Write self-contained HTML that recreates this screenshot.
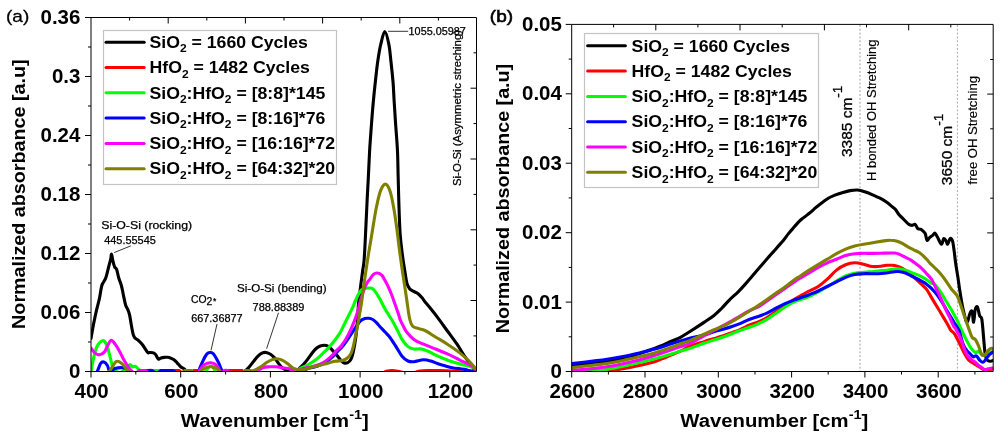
<!DOCTYPE html>
<html><head><meta charset="utf-8"><style>
html,body{margin:0;padding:0;background:#fff;}
svg{display:block;will-change:transform;}
text{font-family:'Liberation Sans', sans-serif;fill:#000;}
.tk{font-size:19.5px;font-weight:bold;}
.ti{font-size:18.8px;font-weight:bold;}
.lg{font-size:17px;font-weight:bold;}
.sb{font-size:11.5px;}
.an{font-size:10.4px;stroke:#000;stroke-width:0.25px;}
.an2{font-size:15.5px;stroke:#000;stroke-width:0.3px;}
.an3{font-size:12.3px;stroke:#000;stroke-width:0.15px;}
.pl{font-size:17px;font-weight:bold;}
</style></head><body>
<svg width="1008" height="439" viewBox="0 0 1008 439">
<defs>
<clipPath id="ca"><rect x="91" y="18" width="385.5" height="353"/></clipPath>
<clipPath id="cb"><rect x="571.7" y="24.5" width="421.5" height="346.5"/></clipPath>
</defs>
<rect width="1008" height="439" fill="#fff"/>
<!-- annotations A -->
<line x1="114.2" y1="252.6" x2="130.9" y2="245.8" stroke="#000" stroke-width="0.8"/>
<line x1="217" y1="324" x2="211" y2="350.4" stroke="#000" stroke-width="0.8"/>
<line x1="278.5" y1="312.8" x2="266.6" y2="348.7" stroke="#000" stroke-width="0.8"/>
<line x1="388.1" y1="31.3" x2="408.2" y2="31.3" stroke="#000" stroke-width="0.8"/>
<line x1="860.0" y1="24.9" x2="860.0" y2="371" stroke="#a0a0a0" stroke-width="1" stroke-dasharray="2,1.84"/>
<line x1="957.4" y1="24.9" x2="957.4" y2="371" stroke="#a8a8a8" stroke-width="1" stroke-dasharray="2,1.84"/>
<path d="M91.0,338.4 C91.5,335.8 92.8,327.7 93.8,322.9 C94.8,318.1 95.7,313.6 96.7,309.4 C97.7,305.2 98.8,301.6 99.6,297.7 C100.4,293.8 101.0,288.6 101.7,286.0 C102.4,283.4 103.0,283.3 103.7,281.9 C104.4,280.5 105.0,280.2 105.8,277.8 C106.6,275.4 107.7,270.6 108.5,267.5 C109.3,264.4 110.2,261.2 110.7,259.0 C111.2,256.8 111.2,253.9 111.6,254.2 C111.9,254.4 112.3,258.4 112.8,260.5 C113.3,262.6 113.9,265.4 114.6,266.9 C115.2,268.4 116.0,267.8 116.7,269.6 C117.4,271.4 117.9,275.1 118.7,277.8 C119.5,280.5 120.7,283.0 121.5,286.0 C122.3,289.0 122.8,292.4 123.5,295.6 C124.2,298.8 124.9,302.7 125.6,305.0 C126.3,307.3 127.0,307.7 127.7,309.4 C128.4,311.1 128.6,310.8 129.6,315.2 C130.6,319.6 132.1,331.3 133.5,335.5 C134.9,339.7 136.8,338.8 138.3,340.3 C139.8,341.8 140.7,342.5 142.3,344.5 C143.9,346.5 146.5,351.2 147.7,352.5 C148.9,353.8 148.5,352.4 149.5,352.5 C150.5,352.6 152.5,352.5 153.5,352.9 C154.5,353.3 154.9,353.6 155.7,354.7 C156.5,355.8 157.5,358.7 158.4,359.2 C159.3,359.7 160.1,358.2 161.1,357.9 C162.1,357.6 163.3,357.5 164.6,357.4 C165.9,357.3 167.6,357.0 169.1,357.4 C170.6,357.8 172.3,358.7 173.6,359.6 C174.9,360.5 175.9,361.6 177.1,362.8 C178.3,364.0 179.5,365.8 180.7,366.8 C181.9,367.8 183.1,368.0 184.3,369.0 C185.5,370.0 186.8,372.0 187.9,372.6 C189.0,373.2 189.9,372.6 190.9,372.6 C191.9,372.6 192.9,372.6 193.9,372.6 C194.9,372.6 195.9,372.6 196.9,372.6 C197.9,372.6 199.0,372.6 200.0,372.6 C201.0,372.6 201.8,372.6 203.0,372.6 C204.2,372.6 205.8,372.6 207.0,372.6 C208.2,372.6 209.2,372.6 210.0,372.6 C210.8,372.6 210.6,372.6 211.6,372.6 C212.6,372.6 214.8,372.6 216.0,372.6 C217.2,372.6 218.0,372.6 219.0,372.6 C220.0,372.6 221.0,372.6 222.0,372.6 C223.0,372.6 224.0,372.6 225.0,372.6 C226.0,372.6 227.0,372.6 228.0,372.6 C229.0,372.6 230.0,372.6 231.0,372.6 C232.0,372.6 233.0,372.6 234.0,372.6 C235.0,372.6 236.0,372.6 237.0,372.6 C238.0,372.6 239.0,372.6 240.0,372.6 C241.0,372.6 241.6,373.4 243.0,372.6 C244.4,371.9 246.4,370.0 248.2,368.1 C250.0,366.2 252.0,363.4 253.6,361.4 C255.2,359.4 256.5,357.5 258.0,356.1 C259.5,354.7 261.1,353.5 262.5,352.9 C263.9,352.3 264.8,352.3 266.1,352.5 C267.4,352.7 269.2,353.5 270.5,354.3 C271.8,355.1 272.9,356.1 274.1,357.4 C275.3,358.7 276.5,360.7 277.7,362.3 C278.9,363.9 280.1,365.6 281.3,366.8 C282.5,368.0 283.2,368.5 284.8,369.5 C286.4,370.5 289.5,372.1 291.0,372.6 C292.5,373.1 292.9,372.6 294.0,372.6 C295.1,372.6 296.6,373.2 297.5,372.6 C298.4,372.0 298.2,370.1 299.2,368.7 C300.2,367.3 302.0,366.1 303.4,364.5 C304.8,362.9 306.2,361.2 307.6,359.4 C309.0,357.6 310.4,355.3 311.8,353.5 C313.2,351.7 314.7,349.8 316.1,348.5 C317.5,347.2 318.9,346.5 320.3,346.0 C321.7,345.5 323.2,345.3 324.5,345.3 C325.8,345.3 326.7,345.4 327.8,346.0 C328.9,346.6 329.8,347.4 331.2,348.9 C332.6,350.4 334.8,352.9 336.5,354.9 C338.2,356.8 340.0,359.2 341.3,360.6 C342.6,362.0 343.1,362.7 344.2,363.0 C345.3,363.3 346.9,363.1 348.0,362.5 C349.1,361.9 350.0,361.0 350.8,359.6 C351.6,358.2 352.2,356.5 352.8,354.0 C353.4,351.5 354.1,347.6 354.7,344.4 C355.2,341.2 355.7,338.4 356.1,334.8 C356.5,331.2 356.9,327.8 357.3,322.5 C357.7,317.2 358.1,308.8 358.6,303.0 C359.1,297.2 359.8,293.2 360.4,288.0 C361.0,282.8 361.9,276.7 362.5,272.0 C363.1,267.3 363.6,266.2 364.1,260.0 C364.6,253.8 365.1,243.5 365.5,234.7 C365.9,225.9 366.4,216.4 366.8,207.3 C367.2,198.2 367.7,189.3 368.2,180.0 C368.7,170.7 369.1,160.1 369.6,151.2 C370.1,142.3 370.7,134.8 371.3,126.6 C371.9,118.4 372.6,109.5 373.3,102.0 C374.0,94.5 374.6,88.3 375.4,81.5 C376.1,74.7 376.9,67.2 377.8,61.0 C378.7,54.9 379.5,49.5 380.7,44.6 C381.9,39.7 383.4,31.5 384.8,31.5 C386.2,31.5 387.9,39.7 388.9,44.6 C389.9,49.5 390.2,54.9 390.9,61.0 C391.6,67.2 392.4,74.7 393.0,81.5 C393.6,88.3 393.7,94.5 394.2,102.0 C394.7,109.5 395.2,118.4 395.8,126.6 C396.4,134.8 397.1,142.6 397.5,151.2 C397.9,159.8 397.9,168.7 398.2,178.0 C398.4,187.3 398.7,197.9 399.0,207.3 C399.3,216.8 399.7,227.6 400.2,234.7 C400.7,241.8 401.3,245.4 401.8,250.0 C402.3,254.6 402.9,258.4 403.4,262.0 C403.9,265.6 404.3,268.0 404.9,271.5 C405.5,275.0 406.1,280.3 406.9,283.2 C407.7,286.1 408.5,287.3 409.6,288.7 C410.7,290.1 412.3,290.6 413.7,291.4 C415.1,292.2 416.4,292.5 417.8,293.5 C419.2,294.5 420.5,296.0 421.9,297.6 C423.3,299.2 424.6,301.4 426.0,303.1 C427.4,304.8 428.0,305.3 430.0,307.8 C432.0,310.3 435.0,314.0 437.9,317.9 C440.8,321.8 444.2,326.6 447.4,331.0 C450.6,335.4 454.0,339.8 457.0,344.2 C460.0,348.6 462.8,353.6 465.4,357.4 C468.0,361.2 470.8,364.4 472.6,366.9 C474.4,369.4 475.4,371.7 476.0,372.6" fill="none" stroke="#000000" stroke-width="3.1" stroke-linejoin="round" stroke-linecap="round" clip-path="url(#ca)"/>
<path d="M91.0,372.6 C92.5,372.6 91.8,372.6 100.0,372.6 C108.2,372.6 132.8,372.6 140.0,372.6 C147.2,372.6 142.0,372.6 143.0,372.6 C144.0,372.6 145.0,372.9 146.0,372.6 C147.0,372.3 148.0,370.9 149.0,370.6 C150.0,370.3 151.0,370.3 152.0,370.6 C153.0,370.9 154.0,372.3 155.0,372.6 C156.0,372.9 157.0,372.6 158.0,372.6 C159.0,372.6 160.0,372.6 161.0,372.6 C162.0,372.6 163.0,372.6 164.0,372.6 C165.0,372.6 166.0,372.6 167.0,372.6 C168.0,372.6 169.0,372.9 170.0,372.6 C171.0,372.3 172.0,370.9 173.0,370.6 C174.0,370.3 175.0,370.6 176.0,370.6 C177.0,370.6 178.0,370.3 179.0,370.6 C180.0,370.9 181.0,372.3 182.0,372.6 C183.0,372.9 184.0,372.6 185.0,372.6 C186.0,372.6 187.0,372.6 188.0,372.6 C189.0,372.6 190.0,372.9 191.0,372.6 C192.0,372.3 193.0,370.9 194.0,370.6 C195.0,370.3 196.0,370.6 197.0,370.6 C198.0,370.6 199.0,370.3 200.0,370.6 C201.0,370.9 202.0,372.3 203.0,372.6 C204.0,372.9 205.0,372.6 206.0,372.6 C207.0,372.6 208.0,372.6 209.0,372.6 C210.0,372.6 211.0,372.6 212.0,372.6 C213.0,372.6 214.0,372.6 215.0,372.6 C216.0,372.6 217.0,372.6 218.0,372.6 C219.0,372.6 220.0,372.6 221.0,372.6 C222.0,372.6 223.0,372.9 224.0,372.6 C225.0,372.3 226.0,370.9 227.0,370.6 C228.0,370.3 229.0,370.6 230.0,370.6 C231.0,370.6 232.0,370.6 233.0,370.6 C234.0,370.6 235.0,370.6 236.0,370.6 C237.0,370.6 238.0,370.6 239.0,370.6 C240.0,370.6 241.0,370.3 242.0,370.6 C243.0,370.9 244.0,372.3 245.0,372.6 C246.0,372.9 247.0,372.6 248.0,372.6 C249.0,372.6 250.0,372.6 251.0,372.6 C252.0,372.6 253.0,372.6 254.0,372.6 C255.0,372.6 256.0,372.6 257.0,372.6 C258.0,372.6 259.0,372.6 260.0,372.6 C261.0,372.6 262.0,372.6 263.0,372.6 C264.0,372.6 265.0,372.6 266.0,372.6 C267.0,372.6 268.0,372.6 269.0,372.6 C270.0,372.6 271.0,372.6 272.0,372.6 C273.0,372.6 274.0,372.6 275.0,372.6 C276.0,372.6 277.0,372.6 278.0,372.6 C279.0,372.6 280.0,372.6 281.0,372.6 C282.0,372.6 283.0,372.6 284.0,372.6 C285.0,372.6 286.0,372.6 287.0,372.6 C288.0,372.6 289.0,372.6 290.0,372.6 C291.0,372.6 292.0,372.6 293.0,372.6 C294.0,372.6 295.0,372.6 296.0,372.6 C297.0,372.6 298.3,372.6 299.0,372.6 C299.7,372.6 286.5,372.6 300.0,372.6 C313.5,372.6 365.7,372.8 380.0,372.6 C394.3,372.4 384.0,371.5 386.0,371.2 C388.0,370.9 390.0,370.6 392.0,370.6 C394.0,370.6 396.0,370.9 398.0,371.2 C400.0,371.5 401.3,372.4 404.0,372.6 C406.7,372.8 411.3,372.9 414.0,372.6 C416.7,372.3 417.3,371.4 420.0,371.0 C422.7,370.6 426.7,370.6 430.0,370.5 C433.3,370.4 436.3,370.4 440.0,370.5 C443.7,370.6 448.7,370.8 452.0,371.0 C455.3,371.2 457.0,371.7 460.0,371.8 C463.0,371.9 467.3,372.0 470.0,371.5 C472.7,371.0 475.0,369.4 476.0,369.0" fill="none" stroke="#ff0000" stroke-width="3.1" stroke-linejoin="round" stroke-linecap="round" clip-path="url(#ca)"/>
<path d="M91.0,372.6 C91.3,370.8 91.8,365.9 92.8,361.6 C93.8,357.4 95.1,350.6 96.7,347.1 C98.3,343.6 100.9,341.2 102.5,340.7 C104.1,340.2 105.3,342.0 106.4,344.2 C107.5,346.4 108.3,350.3 109.3,353.9 C110.3,357.4 111.4,362.9 112.2,365.5 C113.0,368.1 112.8,368.2 114.1,369.4 C115.4,370.6 118.0,372.7 120.0,372.6 C122.0,372.5 124.4,370.3 126.0,369.0 C127.6,367.7 128.7,365.0 129.8,364.6 C130.9,364.2 131.5,366.5 132.5,366.8 C133.5,367.1 134.5,365.9 135.6,366.3 C136.7,366.8 137.2,368.4 138.8,369.5 C140.4,370.6 143.5,372.1 145.0,372.6 C146.5,373.1 147.0,372.6 148.0,372.6 C149.0,372.6 150.0,372.9 151.0,372.6 C152.0,372.3 153.0,370.9 154.0,370.6 C155.0,370.3 156.0,370.6 157.0,370.6 C158.0,370.6 159.0,370.3 160.0,370.6 C161.0,370.9 162.0,372.3 163.0,372.6 C164.0,372.9 165.0,372.6 166.0,372.6 C167.0,372.6 168.0,372.6 169.0,372.6 C170.0,372.6 171.0,372.6 172.0,372.6 C173.0,372.6 174.0,372.6 175.0,372.6 C176.0,372.6 177.0,372.6 178.0,372.6 C179.0,372.6 180.0,372.6 181.0,372.6 C182.0,372.6 183.0,372.6 184.0,372.6 C185.0,372.6 186.0,372.6 187.0,372.6 C188.0,372.6 189.0,372.6 190.0,372.6 C191.0,372.6 192.0,372.6 193.0,372.6 C194.0,372.6 195.0,372.6 196.0,372.6 C197.0,372.6 198.0,372.6 199.0,372.6 C200.0,372.6 201.0,372.6 202.0,372.6 C203.0,372.6 204.0,373.4 205.0,372.6 C206.0,371.8 207.1,369.1 208.0,368.0 C208.9,366.9 209.8,366.0 210.7,366.0 C211.6,366.0 212.6,366.9 213.5,368.0 C214.4,369.1 215.1,371.8 216.0,372.6 C216.9,373.4 218.0,372.6 219.0,372.6 C220.0,372.6 221.0,372.6 222.0,372.6 C223.0,372.6 224.0,372.6 225.0,372.6 C226.0,372.6 227.0,372.6 228.0,372.6 C229.0,372.6 230.0,372.6 231.0,372.6 C232.0,372.6 233.0,372.6 234.0,372.6 C235.0,372.6 236.0,372.6 237.0,372.6 C238.0,372.6 239.0,372.6 240.0,372.6 C241.0,372.6 242.0,372.6 243.0,372.6 C244.0,372.6 245.0,372.6 246.0,372.6 C247.0,372.6 248.0,372.6 249.0,372.6 C250.0,372.6 251.0,372.6 252.0,372.6 C253.0,372.6 254.0,372.6 255.0,372.6 C256.0,372.6 257.0,372.6 258.0,372.6 C259.0,372.6 260.0,372.6 261.0,372.6 C262.0,372.6 263.0,372.6 264.0,372.6 C265.0,372.6 266.0,372.6 267.0,372.6 C268.0,372.6 269.0,372.6 270.0,372.6 C271.0,372.6 272.0,372.6 273.0,372.6 C274.0,372.6 275.0,372.6 276.0,372.6 C277.0,372.6 278.0,372.6 279.0,372.6 C280.0,372.6 281.0,372.6 282.0,372.6 C283.0,372.6 284.0,372.6 285.0,372.6 C286.0,372.6 287.0,372.6 288.0,372.6 C289.0,372.6 290.0,372.6 291.0,372.6 C292.0,372.6 293.0,372.6 294.0,372.6 C295.0,372.6 296.1,373.2 297.0,372.6 C297.9,372.0 297.4,370.5 299.2,369.2 C301.0,367.9 304.8,366.6 307.6,365.0 C310.4,363.4 313.6,361.5 316.1,359.6 C318.6,357.7 320.7,355.5 322.8,353.5 C324.9,351.5 326.7,349.8 328.7,347.6 C330.7,345.4 332.7,343.0 334.6,340.5 C336.5,338.0 338.1,336.1 340.0,332.8 C341.9,329.5 344.1,324.6 346.2,320.5 C348.2,316.4 350.8,311.5 352.3,308.2 C353.9,304.9 354.4,302.9 355.5,300.5 C356.6,298.1 357.6,295.8 358.6,294.0 C359.6,292.2 360.4,291.0 361.5,290.0 C362.6,289.0 363.6,288.5 365.0,288.2 C366.4,287.9 368.3,287.9 369.6,288.0 C370.9,288.1 371.6,287.9 372.7,288.7 C373.8,289.5 374.9,291.0 376.2,292.8 C377.4,294.6 378.8,297.1 380.2,299.6 C381.6,302.1 383.0,305.3 384.4,307.8 C385.8,310.3 387.2,312.7 388.5,314.7 C389.8,316.7 390.6,317.9 391.9,320.0 C393.1,322.1 394.3,324.2 396.0,327.4 C397.7,330.6 400.0,336.2 402.0,339.4 C404.0,342.6 406.0,345.0 408.0,346.6 C410.0,348.2 411.7,348.6 413.9,349.0 C416.1,349.4 418.7,348.6 421.1,349.0 C423.5,349.4 425.5,350.2 428.3,351.4 C431.1,352.6 434.3,354.6 437.9,356.2 C441.5,357.8 445.8,359.6 449.8,361.0 C453.8,362.4 458.2,363.5 461.8,364.5 C465.4,365.5 469.0,366.2 471.4,366.9 C473.8,367.6 475.2,368.2 476.0,368.5" fill="none" stroke="#00ff00" stroke-width="3.1" stroke-linejoin="round" stroke-linecap="round" clip-path="url(#ca)"/>
<path d="M91.0,372.6 C91.5,372.6 93.0,372.6 94.0,372.6 C95.0,372.6 95.6,374.1 96.7,372.6 C97.8,371.1 99.4,365.3 100.6,363.5 C101.8,361.7 102.8,361.7 103.9,362.0 C105.0,362.3 106.3,363.7 107.4,365.5 C108.5,367.3 109.0,372.1 110.3,372.6 C111.6,373.1 112.4,369.1 115.1,368.4 C117.8,367.7 124.0,367.7 126.7,368.4 C129.3,369.1 129.8,371.9 131.0,372.6 C132.2,373.3 133.0,372.6 134.0,372.6 C135.0,372.6 136.0,372.6 137.0,372.6 C138.0,372.6 139.0,372.6 140.0,372.6 C141.0,372.6 142.0,372.9 143.0,372.6 C144.0,372.3 145.0,370.9 146.0,370.6 C147.0,370.3 148.0,370.6 149.0,370.6 C150.0,370.6 151.0,370.3 152.0,370.6 C153.0,370.9 154.0,372.3 155.0,372.6 C156.0,372.9 157.0,372.9 158.0,372.6 C159.0,372.3 160.0,370.9 161.0,370.6 C162.0,370.3 163.0,370.6 164.0,370.6 C165.0,370.6 166.0,370.6 167.0,370.6 C168.0,370.6 169.0,370.6 170.0,370.6 C171.0,370.6 172.0,370.3 173.0,370.6 C174.0,370.9 175.0,372.3 176.0,372.6 C177.0,372.9 178.0,372.6 179.0,372.6 C180.0,372.6 181.0,372.6 182.0,372.6 C183.0,372.6 184.0,372.6 185.0,372.6 C186.0,372.6 187.0,372.6 188.0,372.6 C189.0,372.6 190.0,372.6 191.0,372.6 C192.0,372.6 192.8,372.6 194.0,372.6 C195.2,372.6 197.0,373.4 198.0,372.6 C199.0,371.8 199.2,369.6 200.0,367.7 C200.8,365.8 201.8,363.3 202.7,361.4 C203.6,359.5 204.5,357.5 205.4,356.1 C206.3,354.7 207.1,353.6 208.0,353.0 C208.9,352.4 209.8,352.4 210.7,352.5 C211.6,352.6 212.5,352.9 213.4,353.8 C214.3,354.7 215.2,356.3 216.1,357.9 C217.0,359.5 217.9,361.3 218.8,363.2 C219.7,365.1 220.5,367.9 221.4,369.5 C222.3,371.1 223.1,372.1 224.0,372.6 C224.9,373.1 226.0,372.6 227.0,372.6 C228.0,372.6 229.0,372.6 230.0,372.6 C231.0,372.6 232.0,372.6 233.0,372.6 C234.0,372.6 235.0,372.6 236.0,372.6 C237.0,372.6 238.0,372.6 239.0,372.6 C240.0,372.6 241.0,372.6 242.0,372.6 C243.0,372.6 244.0,372.6 245.0,372.6 C246.0,372.6 247.0,372.6 248.0,372.6 C249.0,372.6 250.0,372.6 251.0,372.6 C252.0,372.6 253.0,372.6 254.0,372.6 C255.0,372.6 256.0,372.6 257.0,372.6 C258.0,372.6 259.0,372.6 260.0,372.6 C261.0,372.6 262.0,372.6 263.0,372.6 C264.0,372.6 265.0,372.6 266.0,372.6 C267.0,372.6 268.0,372.6 269.0,372.6 C270.0,372.6 271.0,372.6 272.0,372.6 C273.0,372.6 274.0,372.6 275.0,372.6 C276.0,372.6 277.0,372.6 278.0,372.6 C279.0,372.6 280.0,372.6 281.0,372.6 C282.0,372.6 283.0,372.6 284.0,372.6 C285.0,372.6 286.0,372.6 287.0,372.6 C288.0,372.6 289.0,372.6 290.0,372.6 C291.0,372.6 292.0,372.6 293.0,372.6 C294.0,372.6 294.9,372.6 296.0,372.6 C297.1,372.6 298.0,373.3 299.9,372.6 C301.8,371.9 304.9,369.6 307.6,368.6 C310.3,367.6 313.6,367.3 316.1,366.5 C318.6,365.7 320.7,365.1 322.8,364.0 C324.9,362.9 327.0,361.3 328.7,360.0 C330.4,358.7 331.6,357.7 333.0,356.3 C334.4,354.9 335.9,353.2 337.4,351.7 C338.9,350.1 340.5,348.7 342.0,347.0 C343.5,345.3 344.6,343.7 346.2,341.5 C347.8,339.3 349.8,336.3 351.3,334.0 C352.8,331.7 353.9,329.9 355.4,327.7 C356.9,325.5 359.0,322.3 360.5,320.8 C362.0,319.3 363.2,319.0 364.6,318.6 C366.0,318.2 367.3,318.2 368.7,318.3 C370.1,318.4 371.4,318.7 372.8,319.5 C374.2,320.3 375.7,321.9 376.9,323.1 C378.1,324.3 378.6,325.2 380.0,326.7 C381.4,328.2 383.3,330.2 385.0,332.0 C386.7,333.8 388.2,335.1 390.0,337.5 C391.8,339.9 394.0,343.5 396.0,346.6 C398.0,349.7 400.0,353.8 402.0,356.2 C404.0,358.6 406.0,360.1 408.0,361.0 C410.0,361.9 411.3,361.9 413.9,361.7 C416.5,361.5 420.7,359.9 423.5,359.8 C426.3,359.7 427.9,360.2 430.7,361.0 C433.5,361.8 436.7,363.4 440.3,364.5 C443.9,365.6 448.2,366.9 452.2,367.7 C456.2,368.5 460.2,368.5 464.2,369.3 C468.2,370.1 474.0,372.1 476.0,372.6" fill="none" stroke="#0000ff" stroke-width="3.1" stroke-linejoin="round" stroke-linecap="round" clip-path="url(#ca)"/>
<path d="M91.0,348.1 C91.6,348.9 93.4,351.8 94.8,352.9 C96.2,354.0 98.0,355.0 99.6,354.8 C101.2,354.6 103.2,353.3 104.5,351.9 C105.8,350.4 106.3,348.0 107.4,346.1 C108.5,344.2 109.9,340.6 111.2,340.3 C112.5,340.0 113.6,342.3 115.1,344.2 C116.5,346.1 118.5,349.3 119.9,351.9 C121.4,354.5 122.3,357.1 123.8,359.7 C125.2,362.3 127.0,365.2 128.6,367.4 C130.2,369.5 132.2,371.7 133.5,372.6 C134.8,373.5 135.5,372.9 136.5,372.6 C137.5,372.3 138.5,370.9 139.5,370.6 C140.5,370.3 141.5,370.6 142.5,370.6 C143.5,370.6 144.5,370.3 145.5,370.6 C146.5,370.9 147.5,372.3 148.5,372.6 C149.5,372.9 150.5,372.6 151.5,372.6 C152.5,372.6 153.5,372.6 154.5,372.6 C155.5,372.6 156.5,372.6 157.5,372.6 C158.5,372.6 159.5,372.6 160.5,372.6 C161.5,372.6 162.5,372.6 163.5,372.6 C164.5,372.6 165.5,372.6 166.5,372.6 C167.5,372.6 168.5,372.6 169.5,372.6 C170.5,372.6 171.5,372.6 172.5,372.6 C173.5,372.6 174.5,372.6 175.5,372.6 C176.5,372.6 177.5,372.6 178.5,372.6 C179.5,372.6 180.5,372.6 181.5,372.6 C182.5,372.6 183.5,372.6 184.5,372.6 C185.5,372.6 186.5,372.6 187.5,372.6 C188.5,372.6 189.5,372.6 190.5,372.6 C191.5,372.6 192.2,372.6 193.5,372.6 C194.8,372.6 196.9,373.1 198.0,372.6 C199.1,372.1 198.9,370.8 200.0,369.5 C201.1,368.2 202.7,365.7 204.5,364.6 C206.3,363.5 208.8,362.7 210.7,362.8 C212.6,362.9 214.3,363.4 216.1,365.0 C217.9,366.6 220.0,371.7 221.4,372.6 C222.8,373.5 223.4,370.9 224.4,370.6 C225.4,370.3 226.4,370.3 227.4,370.6 C228.4,370.9 229.4,372.3 230.4,372.6 C231.4,372.9 232.4,372.6 233.4,372.6 C234.4,372.6 235.4,372.6 236.4,372.6 C237.4,372.6 238.4,372.6 239.4,372.6 C240.4,372.6 241.4,372.6 242.4,372.6 C243.4,372.6 244.4,372.6 245.4,372.6 C246.4,372.6 247.6,372.6 248.4,372.6 C249.2,372.6 249.2,372.6 250.0,372.6 C250.8,372.6 252.1,372.6 253.0,372.6 C253.9,372.6 253.8,373.4 255.4,372.6 C257.0,371.8 260.1,368.7 262.5,367.7 C264.9,366.7 267.4,366.9 269.6,366.8 C271.8,366.7 273.8,366.7 275.9,366.8 C278.0,366.9 279.8,367.3 282.1,367.7 C284.5,368.1 287.5,368.2 290.0,369.0 C292.5,369.8 295.3,372.5 297.0,372.6 C298.7,372.7 298.2,370.3 300.0,369.5 C301.8,368.7 304.9,368.3 307.6,367.6 C310.3,366.9 313.6,366.2 316.1,365.4 C318.6,364.6 320.7,363.9 322.8,362.8 C324.9,361.7 327.0,360.0 328.7,358.6 C330.4,357.2 331.6,356.0 333.0,354.5 C334.4,353.0 335.9,351.2 337.4,349.6 C338.9,348.0 340.2,347.4 342.0,345.0 C343.8,342.6 346.3,338.5 348.2,334.9 C350.1,331.3 351.8,327.4 353.3,323.6 C354.9,319.8 356.3,316.1 357.5,312.2 C358.7,308.3 359.4,303.9 360.6,300.0 C361.8,296.1 363.4,291.3 364.5,288.5 C365.6,285.7 366.1,284.6 367.0,283.0 C367.9,281.4 368.9,280.5 370.0,279.1 C371.1,277.7 372.1,275.4 373.4,274.4 C374.6,273.4 376.1,272.9 377.5,273.0 C378.9,273.1 380.4,273.8 381.6,275.0 C382.9,276.2 383.9,278.4 385.0,280.5 C386.1,282.6 387.4,284.8 388.5,287.3 C389.6,289.8 390.8,292.5 391.9,295.5 C393.0,298.5 394.2,301.9 395.3,305.1 C396.4,308.3 397.9,312.2 398.7,314.7 C399.5,317.2 399.5,318.0 400.3,320.0 C401.1,322.0 402.4,324.5 403.5,326.5 C404.6,328.5 405.1,330.1 406.8,332.2 C408.5,334.3 411.1,337.4 413.9,339.4 C416.7,341.4 419.9,342.6 423.5,344.2 C427.1,345.8 431.5,347.4 435.5,349.0 C439.5,350.6 443.4,352.0 447.4,353.8 C451.4,355.6 455.8,358.0 459.4,359.8 C463.0,361.6 466.2,363.1 469.0,364.5 C471.8,365.9 474.8,367.8 476.0,368.5" fill="none" stroke="#ff00ff" stroke-width="3.1" stroke-linejoin="round" stroke-linecap="round" clip-path="url(#ca)"/>
<path d="M91.0,372.6 C91.5,372.6 93.0,372.6 94.0,372.6 C95.0,372.6 96.0,372.6 97.0,372.6 C98.0,372.6 99.0,372.6 100.0,372.6 C101.0,372.6 102.2,372.6 103.0,372.6 C103.8,372.6 104.1,372.6 105.0,372.6 C105.9,372.6 106.9,373.8 108.3,372.6 C109.7,371.4 111.9,367.3 113.2,365.5 C114.5,363.7 115.1,362.2 116.1,361.6 C117.1,361.0 117.9,361.1 119.0,361.6 C120.1,362.1 121.5,363.2 122.8,364.5 C124.1,365.8 125.3,368.0 126.7,369.4 C128.1,370.8 129.8,372.1 131.0,372.6 C132.2,373.1 133.0,372.6 134.0,372.6 C135.0,372.6 136.0,372.6 137.0,372.6 C138.0,372.6 139.0,372.6 140.0,372.6 C141.0,372.6 142.0,372.6 143.0,372.6 C144.0,372.6 145.0,372.6 146.0,372.6 C147.0,372.6 148.0,372.6 149.0,372.6 C150.0,372.6 151.0,372.6 152.0,372.6 C153.0,372.6 154.0,372.6 155.0,372.6 C156.0,372.6 157.0,372.6 158.0,372.6 C159.0,372.6 160.0,372.6 161.0,372.6 C162.0,372.6 163.0,372.6 164.0,372.6 C165.0,372.6 166.0,372.6 167.0,372.6 C168.0,372.6 169.0,372.6 170.0,372.6 C171.0,372.6 172.0,372.6 173.0,372.6 C174.0,372.6 175.0,372.6 176.0,372.6 C177.0,372.6 178.0,372.6 179.0,372.6 C180.0,372.6 181.0,372.9 182.0,372.6 C183.0,372.3 184.0,370.9 185.0,370.6 C186.0,370.3 187.0,370.6 188.0,370.6 C189.0,370.6 190.0,370.3 191.0,370.6 C192.0,370.9 193.0,372.3 194.0,372.6 C195.0,372.9 196.0,372.6 197.0,372.6 C198.0,372.6 199.1,373.1 200.0,372.6 C200.9,372.1 201.5,370.4 202.7,369.5 C203.9,368.6 205.6,367.6 207.1,367.2 C208.6,366.8 210.1,366.6 211.6,366.8 C213.1,367.0 214.5,367.1 216.1,368.1 C217.7,369.1 220.0,371.9 221.4,372.6 C222.8,373.4 223.4,372.6 224.4,372.6 C225.4,372.6 226.4,372.6 227.4,372.6 C228.4,372.6 229.4,372.6 230.4,372.6 C231.4,372.6 232.4,372.6 233.4,372.6 C234.4,372.6 235.4,372.6 236.4,372.6 C237.4,372.6 238.4,372.6 239.4,372.6 C240.4,372.6 241.4,372.9 242.4,372.6 C243.4,372.3 244.4,370.9 245.4,370.6 C246.4,370.3 247.6,370.6 248.4,370.6 C249.2,370.6 249.1,370.6 250.0,370.6 C250.9,370.6 251.8,371.2 253.6,370.6 C255.4,370.0 258.5,368.2 260.7,366.8 C262.9,365.4 265.1,363.5 267.0,362.3 C268.9,361.1 270.7,360.2 272.3,359.6 C273.9,359.0 275.2,358.7 276.8,358.8 C278.4,358.9 280.3,359.3 282.1,360.1 C283.9,360.9 286.0,362.5 287.5,363.6 C289.0,364.7 289.9,365.7 291.0,366.5 C292.1,367.3 293.1,368.1 294.2,368.6 C295.3,369.1 295.8,369.4 297.4,369.6 C299.0,369.8 301.6,370.0 304.0,369.6 C306.4,369.2 309.5,367.9 311.8,367.2 C314.1,366.5 315.9,366.2 318.0,365.7 C320.1,365.2 321.7,364.8 324.5,364.1 C327.3,363.4 332.1,361.9 335.0,361.3 C337.9,360.7 340.2,361.1 342.2,360.6 C344.2,360.1 345.6,359.3 347.0,358.2 C348.4,357.1 349.8,355.8 350.8,353.9 C351.8,352.0 352.5,349.4 353.2,346.8 C353.9,344.2 354.4,341.3 355.0,338.5 C355.6,335.7 356.0,334.1 356.8,330.0 C357.6,325.9 358.9,318.2 359.6,314.0 C360.3,309.8 360.8,307.3 361.2,305.0 C361.6,302.7 361.5,302.8 361.9,300.0 C362.3,297.2 362.8,292.5 363.4,288.0 C364.0,283.5 364.7,279.2 365.6,273.0 C366.5,266.8 367.8,258.2 369.0,251.0 C370.2,243.8 371.4,236.8 372.6,229.5 C373.8,222.2 375.1,213.7 376.4,207.3 C377.7,200.9 379.0,194.8 380.5,190.9 C382.0,187.0 383.8,184.1 385.4,184.1 C387.0,184.1 388.6,187.0 390.0,190.9 C391.4,194.8 392.5,200.9 393.6,207.3 C394.8,213.7 395.9,221.9 396.9,229.2 C397.9,236.5 398.6,243.7 399.6,251.1 C400.6,258.5 401.9,267.7 402.8,273.7 C403.7,279.7 404.2,282.8 404.9,287.3 C405.6,291.9 406.1,295.8 406.9,301.0 C407.7,306.2 408.6,314.3 409.6,318.5 C410.6,322.7 411.2,324.5 412.7,326.2 C414.2,327.9 416.5,327.8 418.7,328.6 C420.9,329.4 423.1,329.6 425.9,331.0 C428.7,332.4 431.9,334.8 435.5,337.0 C439.1,339.2 443.4,341.6 447.4,344.2 C451.4,346.8 455.8,349.8 459.4,352.6 C463.0,355.4 466.4,358.4 469.0,361.0 C471.6,363.6 473.8,366.8 475.0,368.1 C476.2,369.4 475.8,368.9 476.0,369.0" fill="none" stroke="#808000" stroke-width="3.1" stroke-linejoin="round" stroke-linecap="round" clip-path="url(#ca)"/>
<path d="M572.0,365.7 C575.5,365.3 585.8,364.1 593.0,363.1 C600.2,362.2 608.0,361.4 615.0,360.0 C622.0,358.6 629.2,356.7 635.0,355.0 C640.8,353.3 645.8,351.4 650.0,350.0 C654.2,348.6 656.3,347.8 660.0,346.3 C663.7,344.8 668.7,342.4 672.0,341.0 C675.3,339.6 677.0,339.2 680.0,337.6 C683.0,336.0 686.0,334.0 690.0,331.5 C694.0,329.0 700.0,325.1 704.0,322.4 C708.0,319.7 711.1,317.8 714.0,315.5 C716.9,313.2 719.0,311.0 721.5,308.5 C724.0,306.0 726.3,303.1 729.1,300.3 C731.9,297.5 735.5,294.5 738.2,291.8 C740.9,289.1 742.8,287.0 745.1,284.4 C747.4,281.8 749.6,279.1 751.9,276.4 C754.2,273.7 756.0,271.5 758.7,268.4 C761.4,265.3 765.0,261.2 768.0,257.8 C771.0,254.4 774.4,250.6 776.9,247.7 C779.4,244.8 781.4,242.8 783.3,240.5 C785.2,238.2 786.5,236.1 788.1,234.1 C789.7,232.1 790.9,230.7 792.8,228.6 C794.6,226.5 797.3,223.3 799.2,221.4 C801.1,219.5 802.3,218.8 804.0,217.4 C805.7,216.0 807.8,214.5 809.6,213.0 C811.5,211.5 813.4,209.7 815.1,208.2 C816.8,206.7 817.8,205.9 820.0,204.2 C822.2,202.5 825.7,199.8 828.3,198.2 C830.9,196.6 833.2,195.9 835.6,194.9 C838.0,193.9 840.5,193.1 842.9,192.4 C845.3,191.7 847.7,191.0 850.1,190.6 C852.5,190.2 855.0,189.8 857.4,190.0 C859.8,190.2 862.3,191.0 864.7,191.8 C867.1,192.6 869.5,193.5 872.0,194.6 C874.5,195.7 877.6,197.0 880.0,198.2 C882.4,199.4 884.5,200.7 886.4,202.0 C888.3,203.3 889.8,204.7 891.2,205.9 C892.7,207.1 893.8,207.6 895.1,209.1 C896.4,210.6 897.6,213.0 899.1,214.7 C900.6,216.4 902.3,217.9 903.9,219.5 C905.5,221.1 907.4,223.3 908.7,224.3 C910.0,225.3 910.8,225.4 911.9,225.4 C913.0,225.4 914.2,223.8 915.1,224.3 C916.0,224.8 916.7,227.5 917.5,228.3 C918.3,229.1 919.1,228.8 919.8,229.1 C920.5,229.4 921.1,229.4 921.8,229.9 C922.5,230.4 923.2,231.1 923.8,231.8 C924.4,232.5 924.9,232.5 925.4,233.9 C925.9,235.3 926.3,239.5 927.0,240.2 C927.7,240.8 928.5,238.6 929.4,237.8 C930.3,237.0 931.7,236.2 932.6,235.4 C933.5,234.6 934.2,232.8 935.0,233.1 C935.8,233.4 936.3,235.2 937.4,237.0 C938.5,238.8 940.3,243.9 941.4,244.2 C942.5,244.5 942.9,239.1 943.7,238.6 C944.5,238.1 945.4,240.1 946.1,241.0 C946.8,241.9 947.0,244.6 947.7,244.2 C948.4,243.8 949.3,239.1 950.1,238.6 C950.9,238.1 951.8,239.0 952.5,241.0 C953.2,243.0 953.6,247.1 954.1,250.6 C954.6,254.1 954.9,257.6 955.5,262.0 C956.1,266.4 957.2,272.6 957.9,277.3 C958.6,282.0 959.1,286.2 959.7,290.1 C960.3,294.1 960.9,297.7 961.5,301.0 C962.1,304.3 962.5,306.8 963.3,310.1 C964.1,313.5 965.4,319.3 966.1,321.1 C966.8,322.9 967.1,322.4 967.7,321.1 C968.3,319.8 969.2,315.1 969.9,313.5 C970.6,311.9 971.5,309.9 972.1,311.4 C972.7,312.8 973.1,322.6 973.6,322.2 C974.1,321.8 974.6,311.7 975.3,309.2 C975.9,306.7 976.8,306.0 977.5,307.1 C978.2,308.2 978.9,313.7 979.6,315.7 C980.3,317.7 981.1,315.6 981.8,319.0 C982.4,322.4 983.0,330.5 983.5,336.3 C984.0,342.1 984.5,349.6 985.1,353.6 C985.7,357.6 986.3,358.8 987.2,360.1 C988.1,361.4 989.4,361.2 990.5,361.2 C991.6,361.2 993.4,360.3 994.0,360.1" fill="none" stroke="#000000" stroke-width="3.1" stroke-linejoin="round" stroke-linecap="round" clip-path="url(#cb)"/>
<path d="M572.0,373.0 C575.5,372.9 587.2,372.5 593.0,372.2 C598.8,371.9 602.0,371.8 607.0,371.2 C612.0,370.6 617.8,369.7 623.0,368.8 C628.2,367.9 632.5,367.1 638.0,365.8 C643.5,364.5 652.0,362.4 656.0,361.2 C660.0,360.0 659.3,360.0 662.0,358.9 C664.7,357.8 668.7,356.0 672.0,354.6 C675.3,353.2 679.0,351.8 682.0,350.4 C685.0,349.0 686.3,347.8 690.0,346.3 C693.7,344.8 700.0,342.9 704.0,341.6 C708.0,340.3 710.7,339.6 714.0,338.6 C717.3,337.6 721.0,336.5 724.0,335.5 C727.0,334.5 729.3,333.6 732.0,332.6 C734.7,331.6 737.1,330.8 740.0,329.6 C742.9,328.4 746.1,326.5 749.1,325.2 C752.1,323.9 755.2,323.3 758.2,322.0 C761.2,320.7 764.4,319.2 767.4,317.4 C770.4,315.6 773.5,313.1 776.5,311.0 C779.5,308.9 782.6,306.7 785.6,304.7 C788.6,302.7 792.3,300.6 794.7,299.2 C797.1,297.8 797.6,297.4 800.0,296.0 C802.4,294.6 806.1,292.6 809.1,291.0 C812.1,289.4 815.2,288.5 818.2,286.5 C821.2,284.5 824.2,281.9 827.3,279.2 C830.3,276.5 833.5,272.5 836.5,270.1 C839.5,267.7 842.6,266.0 845.6,264.8 C848.6,263.6 851.7,262.9 854.7,262.8 C857.7,262.7 861.2,263.7 863.8,264.3 C866.3,264.9 868.0,265.8 870.0,266.2 C872.0,266.6 873.7,266.6 875.5,266.6 C877.3,266.6 879.1,266.4 880.9,266.2 C882.7,266.0 884.6,265.4 886.4,265.3 C888.2,265.2 890.1,265.2 891.9,265.3 C893.7,265.4 895.5,265.7 897.3,266.2 C899.1,266.7 901.0,267.5 902.8,268.5 C904.6,269.5 906.5,270.9 908.3,272.4 C910.1,273.8 911.9,275.6 913.7,277.2 C915.5,278.8 917.4,280.5 919.2,282.2 C921.0,283.9 923.3,286.0 924.7,287.4 C926.1,288.8 926.3,288.8 927.4,290.5 C928.5,292.2 929.8,294.7 931.4,297.4 C933.0,300.1 935.1,303.5 936.9,306.5 C938.7,309.5 940.6,312.6 942.4,315.6 C944.2,318.6 946.4,322.3 947.8,324.7 C949.2,327.1 949.5,328.4 950.6,330.0 C951.8,331.6 953.1,331.6 954.7,334.1 C956.3,336.6 958.6,341.6 960.2,344.9 C961.8,348.1 963.1,351.1 964.5,353.6 C965.9,356.1 967.0,358.3 968.8,360.1 C970.6,361.9 973.3,363.1 975.3,364.4 C977.3,365.7 979.2,366.8 980.7,367.7 C982.2,368.6 982.7,369.4 984.0,369.8 C985.3,370.2 986.6,370.0 988.3,369.8 C990.0,369.6 993.0,368.9 994.0,368.7" fill="none" stroke="#ff0000" stroke-width="3.1" stroke-linejoin="round" stroke-linecap="round" clip-path="url(#cb)"/>
<path d="M572.0,372.6 C575.5,372.3 587.2,371.6 593.0,371.0 C598.8,370.4 602.0,370.1 607.0,369.3 C612.0,368.5 617.8,367.3 623.0,366.2 C628.2,365.1 632.5,364.1 638.0,362.8 C643.5,361.5 650.3,360.0 656.0,358.5 C661.7,357.0 668.0,355.0 672.0,353.8 C676.0,352.6 677.0,352.2 680.0,351.3 C683.0,350.4 686.0,349.7 690.0,348.4 C694.0,347.1 700.0,344.7 704.0,343.3 C708.0,341.9 710.7,341.1 714.0,340.0 C717.3,338.9 721.0,337.9 724.0,336.8 C727.0,335.8 729.3,334.8 732.0,333.7 C734.7,332.6 737.1,331.6 740.0,330.5 C742.9,329.4 746.1,328.5 749.1,327.4 C752.1,326.3 755.2,325.2 758.2,323.8 C761.2,322.4 764.4,321.0 767.4,319.2 C770.4,317.4 773.5,315.0 776.5,312.9 C779.5,310.8 782.6,308.4 785.6,306.5 C788.6,304.6 792.3,302.6 794.7,301.5 C797.1,300.4 797.6,300.6 800.0,299.8 C802.4,299.0 806.1,297.8 809.1,296.5 C812.1,295.2 815.2,293.7 818.2,292.0 C821.2,290.3 824.2,288.3 827.3,286.5 C830.3,284.7 833.5,282.8 836.5,281.0 C839.5,279.2 842.6,277.1 845.6,275.8 C848.6,274.5 851.7,273.8 854.7,273.2 C857.7,272.6 861.2,272.5 863.8,272.3 C866.3,272.1 867.6,272.1 870.0,271.9 C872.4,271.7 875.5,271.3 878.2,271.0 C880.9,270.7 883.7,270.6 886.4,270.3 C889.1,270.0 892.3,269.2 894.6,269.0 C896.9,268.8 898.3,268.8 900.1,269.0 C901.9,269.2 903.7,269.7 905.5,270.3 C907.3,270.9 909.2,271.7 911.0,272.4 C912.8,273.1 914.7,273.6 916.5,274.4 C918.3,275.1 920.1,275.9 921.9,276.9 C923.7,277.9 925.9,279.2 927.4,280.2 C928.9,281.2 929.7,282.2 931.0,283.0 C932.3,283.8 933.5,283.3 935.1,284.8 C936.7,286.3 938.7,289.2 940.5,291.9 C942.3,294.6 944.2,298.0 946.0,301.0 C947.8,304.0 949.7,306.9 951.5,310.1 C953.3,313.3 955.3,316.7 957.0,320.0 C958.7,323.3 959.9,326.6 961.5,330.0 C963.1,333.4 965.1,337.6 966.7,340.6 C968.3,343.6 969.6,346.2 971.0,348.2 C972.4,350.2 974.0,352.0 975.3,352.5 C976.6,353.0 977.5,351.0 978.6,351.4 C979.7,351.8 980.5,354.1 981.8,354.7 C983.0,355.2 984.8,355.1 986.1,354.7 C987.4,354.3 988.1,353.1 989.4,352.5 C990.7,351.9 993.2,351.6 994.0,351.4" fill="none" stroke="#00ff00" stroke-width="3.1" stroke-linejoin="round" stroke-linecap="round" clip-path="url(#cb)"/>
<path d="M572.0,363.6 C575.5,363.2 587.2,361.8 593.0,361.1 C598.8,360.4 602.0,360.1 607.0,359.3 C612.0,358.6 617.8,357.6 623.0,356.6 C628.2,355.6 632.5,354.6 638.0,353.3 C643.5,352.0 650.3,350.4 656.0,348.8 C661.7,347.2 666.7,345.3 672.0,343.6 C677.3,341.9 682.7,340.2 688.0,338.8 C693.3,337.4 699.7,336.2 704.0,335.0 C708.3,333.8 710.7,332.8 714.0,331.8 C717.3,330.8 721.0,329.9 724.0,329.0 C727.0,328.1 729.3,327.4 732.0,326.5 C734.7,325.6 737.1,324.8 740.0,323.6 C742.9,322.4 746.1,320.7 749.1,319.5 C752.1,318.3 755.2,317.6 758.2,316.5 C761.2,315.4 764.4,314.3 767.4,312.9 C770.4,311.5 773.5,309.5 776.5,307.9 C779.5,306.3 782.6,304.8 785.6,303.4 C788.6,302.0 792.3,300.7 794.7,299.8 C797.1,298.9 797.6,298.9 800.0,298.0 C802.4,297.1 806.1,295.9 809.1,294.7 C812.1,293.5 815.2,292.4 818.2,291.0 C821.2,289.6 824.2,288.0 827.3,286.5 C830.3,285.0 833.5,283.4 836.5,281.9 C839.5,280.4 842.6,278.6 845.6,277.4 C848.6,276.2 851.7,275.2 854.7,274.6 C857.7,274.0 861.2,273.9 863.8,273.7 C866.3,273.5 867.6,273.7 870.0,273.7 C872.4,273.7 875.5,273.8 878.2,273.7 C880.9,273.6 883.7,273.3 886.4,273.0 C889.1,272.7 892.3,271.9 894.6,271.7 C896.9,271.5 898.3,271.5 900.1,271.7 C901.9,271.9 903.7,272.3 905.5,273.0 C907.3,273.7 909.2,274.9 911.0,275.8 C912.8,276.7 914.7,277.6 916.5,278.5 C918.3,279.4 920.3,280.5 921.9,281.4 C923.5,282.3 924.3,282.5 925.9,283.7 C927.5,284.9 929.6,286.5 931.4,288.3 C933.2,290.1 935.1,292.2 936.9,294.6 C938.7,297.0 940.6,299.9 942.4,302.8 C944.2,305.7 946.0,308.9 947.8,312.0 C949.6,315.1 951.5,318.1 953.3,321.1 C955.1,324.1 957.6,327.8 958.8,330.0 C959.9,332.2 959.4,331.6 960.2,334.1 C961.0,336.6 962.3,342.2 963.4,344.9 C964.5,347.6 965.6,348.9 966.7,350.3 C967.8,351.8 968.8,352.5 969.9,353.6 C971.0,354.7 972.1,356.4 973.2,356.8 C974.3,357.2 975.3,355.2 976.4,355.8 C977.5,356.4 978.5,359.0 979.6,360.1 C980.7,361.2 981.8,362.5 982.9,362.3 C984.0,362.1 985.0,360.3 986.1,359.0 C987.2,357.7 988.1,356.0 989.4,354.7 C990.7,353.4 993.2,351.9 994.0,351.4" fill="none" stroke="#0000ff" stroke-width="3.1" stroke-linejoin="round" stroke-linecap="round" clip-path="url(#cb)"/>
<path d="M572.0,370.4 C575.5,370.1 587.2,369.1 593.0,368.5 C598.8,367.9 602.0,367.6 607.0,366.8 C612.0,366.0 617.8,364.9 623.0,363.8 C628.2,362.7 632.5,361.7 638.0,360.2 C643.5,358.7 650.3,356.8 656.0,355.0 C661.7,353.2 668.0,351.0 672.0,349.6 C676.0,348.2 677.0,347.8 680.0,346.8 C683.0,345.8 686.0,345.2 690.0,343.4 C694.0,341.6 700.0,338.1 704.0,336.0 C708.0,333.9 710.7,332.3 714.0,330.5 C717.3,328.7 721.0,326.8 724.0,325.2 C727.0,323.6 729.3,322.3 732.0,320.8 C734.7,319.3 737.1,317.7 740.0,316.0 C742.9,314.3 746.1,312.3 749.1,310.8 C752.1,309.3 755.2,308.7 758.2,307.0 C761.2,305.3 764.4,302.8 767.4,300.7 C770.4,298.6 773.5,296.4 776.5,294.3 C779.5,292.2 782.6,290.1 785.6,288.0 C788.6,285.9 792.3,283.4 794.7,281.8 C797.1,280.2 797.6,279.8 800.0,278.3 C802.4,276.8 806.1,274.6 809.1,272.8 C812.1,271.0 815.2,269.1 818.2,267.4 C821.2,265.7 824.2,264.2 827.3,262.8 C830.3,261.4 833.5,260.4 836.5,259.2 C839.5,258.0 842.6,256.4 845.6,255.5 C848.6,254.6 851.7,254.1 854.7,253.7 C857.7,253.3 861.2,253.4 863.8,253.3 C866.3,253.2 867.1,253.4 870.0,253.4 C872.9,253.4 876.8,253.3 880.9,253.2 C885.0,253.1 891.4,252.8 894.6,253.0 C897.8,253.2 898.3,253.9 900.1,254.6 C901.9,255.3 903.7,256.4 905.5,257.3 C907.3,258.2 909.2,259.0 911.0,260.1 C912.8,261.2 914.7,262.8 916.5,264.2 C918.3,265.6 920.3,267.1 921.9,268.6 C923.5,270.1 924.4,271.2 926.0,273.0 C927.6,274.8 929.9,277.0 931.4,279.2 C932.9,281.4 933.9,284.0 935.1,286.4 C936.3,288.8 937.5,291.1 938.7,293.7 C939.9,296.3 941.2,299.2 942.4,301.9 C943.6,304.6 944.8,307.5 946.0,310.1 C947.2,312.7 948.5,314.8 949.7,317.4 C950.9,320.0 952.2,323.5 953.3,325.5 C954.3,327.5 954.9,327.5 956.0,329.5 C957.1,331.5 958.8,334.1 960.2,337.4 C961.6,340.7 963.2,346.2 964.5,349.3 C965.8,352.4 966.4,354.0 967.7,355.8 C969.0,357.6 970.8,359.0 972.1,360.1 C973.4,361.2 974.2,361.4 975.3,362.3 C976.4,363.2 977.5,364.6 978.6,365.5 C979.7,366.4 980.7,367.0 981.8,367.7 C982.9,368.4 984.0,369.6 985.1,369.8 C986.2,370.0 986.8,369.1 988.3,368.7 C989.8,368.3 993.0,367.9 994.0,367.7" fill="none" stroke="#ff00ff" stroke-width="3.1" stroke-linejoin="round" stroke-linecap="round" clip-path="url(#cb)"/>
<path d="M572.0,367.6 C575.5,367.2 587.2,365.9 593.0,365.2 C598.8,364.5 602.0,364.3 607.0,363.5 C612.0,362.7 617.8,361.7 623.0,360.6 C628.2,359.5 632.5,358.4 638.0,357.0 C643.5,355.6 650.3,354.1 656.0,352.4 C661.7,350.7 668.0,348.4 672.0,347.0 C676.0,345.6 677.0,345.1 680.0,344.0 C683.0,342.9 686.0,342.2 690.0,340.6 C694.0,339.0 700.0,336.0 704.0,334.2 C708.0,332.4 710.7,331.2 714.0,329.8 C717.3,328.4 721.0,327.1 724.0,325.7 C727.0,324.3 729.3,323.0 732.0,321.5 C734.7,320.0 737.1,318.5 740.0,316.8 C742.9,315.1 746.1,313.1 749.1,311.2 C752.1,309.3 755.2,307.6 758.2,305.6 C761.2,303.6 764.4,301.3 767.4,299.2 C770.4,297.1 773.5,294.9 776.5,292.8 C779.5,290.7 782.6,288.6 785.6,286.4 C788.6,284.2 792.3,281.3 794.7,279.6 C797.1,277.9 797.6,277.8 800.0,276.2 C802.4,274.6 806.1,272.0 809.1,270.1 C812.1,268.2 815.2,266.4 818.2,264.6 C821.2,262.8 824.2,261.0 827.3,259.2 C830.3,257.4 833.5,255.4 836.5,253.7 C839.5,252.0 842.6,250.4 845.6,249.1 C848.6,247.8 851.7,246.8 854.7,246.0 C857.7,245.2 861.2,244.6 863.8,244.2 C866.3,243.8 867.8,243.7 870.0,243.3 C872.2,242.9 874.5,242.4 876.8,242.0 C879.1,241.6 881.4,241.2 883.7,240.9 C886.0,240.6 888.2,240.1 890.5,240.2 C892.8,240.2 895.2,240.6 897.3,241.2 C899.3,241.8 901.0,242.7 902.8,243.7 C904.6,244.7 906.5,246.1 908.3,247.1 C910.1,248.1 911.9,248.9 913.7,249.8 C915.5,250.7 917.6,251.5 919.2,252.5 C920.8,253.5 921.9,254.5 923.3,255.8 C924.7,257.1 926.3,258.9 927.4,260.1 C928.5,261.4 928.7,262.0 930.0,263.3 C931.3,264.6 933.4,266.5 935.1,268.2 C936.9,269.9 938.7,271.6 940.5,273.7 C942.3,275.8 944.2,278.4 946.0,281.0 C947.8,283.6 949.7,286.8 951.5,289.2 C953.3,291.6 955.5,293.0 957.0,295.6 C958.5,298.2 959.4,301.4 960.6,304.7 C961.8,308.0 962.8,311.6 964.2,315.6 C965.6,319.6 967.5,325.1 968.8,328.7 C970.1,332.3 971.0,335.6 972.1,337.4 C973.2,339.2 974.2,338.1 975.3,339.5 C976.4,340.9 977.5,343.5 978.6,346.0 C979.7,348.5 980.7,353.2 981.8,354.7 C982.9,356.1 984.0,355.4 985.1,354.7 C986.2,354.0 987.2,351.4 988.3,350.3 C989.4,349.2 990.6,348.4 991.6,348.2 C992.6,348.0 993.6,349.1 994.0,349.3" fill="none" stroke="#808000" stroke-width="3.1" stroke-linejoin="round" stroke-linecap="round" clip-path="url(#cb)"/>
<line x1="91" y1="17.5" x2="476.5" y2="17.5" stroke="#000" stroke-width="1"/>
<line x1="91" y1="371.5" x2="476.5" y2="371.5" stroke="#000" stroke-width="1"/>
<line x1="91" y1="17.5" x2="91" y2="371.5" stroke="#000" stroke-width="1"/>
<line x1="476.5" y1="17.5" x2="476.5" y2="371.5" stroke="#000" stroke-width="1"/>
<line x1="85" y1="371.5" x2="91" y2="371.5" stroke="#000" stroke-width="1"/>
<g transform="translate(80.40,377.50) scale(1.05,1)"><text x="0" y="0" class="tk" text-anchor="end" >0</text></g>
<line x1="88" y1="342.0" x2="91" y2="342.0" stroke="#000" stroke-width="1"/>
<line x1="85" y1="312.5" x2="91" y2="312.5" stroke="#000" stroke-width="1"/>
<g transform="translate(80.40,318.50) scale(1.05,1)"><text x="0" y="0" class="tk" text-anchor="end" >0.06</text></g>
<line x1="88" y1="283.0" x2="91" y2="283.0" stroke="#000" stroke-width="1"/>
<line x1="85" y1="253.5" x2="91" y2="253.5" stroke="#000" stroke-width="1"/>
<g transform="translate(80.40,259.50) scale(1.05,1)"><text x="0" y="0" class="tk" text-anchor="end" >0.12</text></g>
<line x1="88" y1="224.0" x2="91" y2="224.0" stroke="#000" stroke-width="1"/>
<line x1="85" y1="194.5" x2="91" y2="194.5" stroke="#000" stroke-width="1"/>
<g transform="translate(80.40,200.50) scale(1.05,1)"><text x="0" y="0" class="tk" text-anchor="end" >0.18</text></g>
<line x1="88" y1="165.0" x2="91" y2="165.0" stroke="#000" stroke-width="1"/>
<line x1="85" y1="135.5" x2="91" y2="135.5" stroke="#000" stroke-width="1"/>
<g transform="translate(80.40,141.50) scale(1.05,1)"><text x="0" y="0" class="tk" text-anchor="end" >0.24</text></g>
<line x1="88" y1="106.0" x2="91" y2="106.0" stroke="#000" stroke-width="1"/>
<line x1="85" y1="76.5" x2="91" y2="76.5" stroke="#000" stroke-width="1"/>
<g transform="translate(80.40,82.50) scale(1.05,1)"><text x="0" y="0" class="tk" text-anchor="end" >0.3</text></g>
<line x1="88" y1="47.0" x2="91" y2="47.0" stroke="#000" stroke-width="1"/>
<line x1="85" y1="17.5" x2="91" y2="17.5" stroke="#000" stroke-width="1"/>
<g transform="translate(80.40,23.50) scale(1.05,1)"><text x="0" y="0" class="tk" text-anchor="end" >0.36</text></g>
<line x1="91.0" y1="371.5" x2="91.0" y2="377.5" stroke="#000" stroke-width="1"/>
<g transform="translate(91.60,398.30) scale(1.05,1)"><text x="0" y="0" class="tk" text-anchor="middle" >400</text></g>
<line x1="135.8" y1="371.5" x2="135.8" y2="374.5" stroke="#000" stroke-width="1"/>
<line x1="180.7" y1="371.5" x2="180.7" y2="377.5" stroke="#000" stroke-width="1"/>
<g transform="translate(181.30,398.30) scale(1.05,1)"><text x="0" y="0" class="tk" text-anchor="middle" >600</text></g>
<line x1="225.6" y1="371.5" x2="225.6" y2="374.5" stroke="#000" stroke-width="1"/>
<line x1="270.4" y1="371.5" x2="270.4" y2="377.5" stroke="#000" stroke-width="1"/>
<g transform="translate(271.00,398.30) scale(1.05,1)"><text x="0" y="0" class="tk" text-anchor="middle" >800</text></g>
<line x1="315.2" y1="371.5" x2="315.2" y2="374.5" stroke="#000" stroke-width="1"/>
<line x1="360.1" y1="371.5" x2="360.1" y2="377.5" stroke="#000" stroke-width="1"/>
<g transform="translate(360.70,398.30) scale(1.05,1)"><text x="0" y="0" class="tk" text-anchor="middle" >1000</text></g>
<line x1="404.9" y1="371.5" x2="404.9" y2="374.5" stroke="#000" stroke-width="1"/>
<line x1="449.8" y1="371.5" x2="449.8" y2="377.5" stroke="#000" stroke-width="1"/>
<g transform="translate(450.40,398.30) scale(1.05,1)"><text x="0" y="0" class="tk" text-anchor="middle" >1200</text></g>
<line x1="129.6" y1="17.5" x2="129.6" y2="20.5" stroke="#000" stroke-width="1"/>
<line x1="168.2" y1="17.5" x2="168.2" y2="23.5" stroke="#000" stroke-width="1"/>
<line x1="206.8" y1="17.5" x2="206.8" y2="20.5" stroke="#000" stroke-width="1"/>
<line x1="245.4" y1="17.5" x2="245.4" y2="23.5" stroke="#000" stroke-width="1"/>
<line x1="284.0" y1="17.5" x2="284.0" y2="20.5" stroke="#000" stroke-width="1"/>
<line x1="322.6" y1="17.5" x2="322.6" y2="23.5" stroke="#000" stroke-width="1"/>
<line x1="361.2" y1="17.5" x2="361.2" y2="20.5" stroke="#000" stroke-width="1"/>
<line x1="399.8" y1="17.5" x2="399.8" y2="23.5" stroke="#000" stroke-width="1"/>
<line x1="438.4" y1="17.5" x2="438.4" y2="20.5" stroke="#000" stroke-width="1"/>
<line x1="473.5" y1="52.8" x2="476.5" y2="52.8" stroke="#000" stroke-width="1"/>
<line x1="470.5" y1="88.2" x2="476.5" y2="88.2" stroke="#000" stroke-width="1"/>
<line x1="473.5" y1="123.6" x2="476.5" y2="123.6" stroke="#000" stroke-width="1"/>
<line x1="470.5" y1="159.0" x2="476.5" y2="159.0" stroke="#000" stroke-width="1"/>
<line x1="473.5" y1="194.4" x2="476.5" y2="194.4" stroke="#000" stroke-width="1"/>
<line x1="470.5" y1="229.8" x2="476.5" y2="229.8" stroke="#000" stroke-width="1"/>
<line x1="473.5" y1="265.1" x2="476.5" y2="265.1" stroke="#000" stroke-width="1"/>
<line x1="470.5" y1="300.5" x2="476.5" y2="300.5" stroke="#000" stroke-width="1"/>
<line x1="473.5" y1="335.9" x2="476.5" y2="335.9" stroke="#000" stroke-width="1"/>
<line x1="571.7" y1="24.4" x2="993.2" y2="24.4" stroke="#000" stroke-width="1"/>
<line x1="571.7" y1="371.5" x2="993.2" y2="371.5" stroke="#000" stroke-width="1"/>
<line x1="571.7" y1="24.4" x2="571.7" y2="371.5" stroke="#000" stroke-width="1"/>
<line x1="993.2" y1="24.4" x2="993.2" y2="371.5" stroke="#000" stroke-width="1"/>
<line x1="565.7" y1="371.5" x2="571.7" y2="371.5" stroke="#000" stroke-width="1"/>
<g transform="translate(561.90,378.10) scale(1.05,1)"><text x="0" y="0" class="tk" text-anchor="end" >0</text></g>
<line x1="568.7" y1="336.8" x2="571.7" y2="336.8" stroke="#000" stroke-width="1"/>
<line x1="565.7" y1="302.1" x2="571.7" y2="302.1" stroke="#000" stroke-width="1"/>
<g transform="translate(561.90,308.68) scale(1.05,1)"><text x="0" y="0" class="tk" text-anchor="end" >0.01</text></g>
<line x1="568.7" y1="267.4" x2="571.7" y2="267.4" stroke="#000" stroke-width="1"/>
<line x1="565.7" y1="232.7" x2="571.7" y2="232.7" stroke="#000" stroke-width="1"/>
<g transform="translate(561.90,239.26) scale(1.05,1)"><text x="0" y="0" class="tk" text-anchor="end" >0.02</text></g>
<line x1="568.7" y1="197.9" x2="571.7" y2="197.9" stroke="#000" stroke-width="1"/>
<line x1="565.7" y1="163.2" x2="571.7" y2="163.2" stroke="#000" stroke-width="1"/>
<g transform="translate(561.90,169.84) scale(1.05,1)"><text x="0" y="0" class="tk" text-anchor="end" >0.03</text></g>
<line x1="568.7" y1="128.5" x2="571.7" y2="128.5" stroke="#000" stroke-width="1"/>
<line x1="565.7" y1="93.8" x2="571.7" y2="93.8" stroke="#000" stroke-width="1"/>
<g transform="translate(561.90,100.42) scale(1.05,1)"><text x="0" y="0" class="tk" text-anchor="end" >0.04</text></g>
<line x1="568.7" y1="59.1" x2="571.7" y2="59.1" stroke="#000" stroke-width="1"/>
<line x1="565.7" y1="24.4" x2="571.7" y2="24.4" stroke="#000" stroke-width="1"/>
<g transform="translate(561.90,31.00) scale(1.05,1)"><text x="0" y="0" class="tk" text-anchor="end" >0.05</text></g>
<line x1="571.7" y1="371.5" x2="571.7" y2="377.5" stroke="#000" stroke-width="1"/>
<g transform="translate(572.30,398.30) scale(1.05,1)"><text x="0" y="0" class="tk" text-anchor="middle" >2600</text></g>
<line x1="608.4" y1="371.5" x2="608.4" y2="374.5" stroke="#000" stroke-width="1"/>
<line x1="645.0" y1="371.5" x2="645.0" y2="377.5" stroke="#000" stroke-width="1"/>
<g transform="translate(645.60,398.30) scale(1.05,1)"><text x="0" y="0" class="tk" text-anchor="middle" >2800</text></g>
<line x1="681.7" y1="371.5" x2="681.7" y2="374.5" stroke="#000" stroke-width="1"/>
<line x1="718.3" y1="371.5" x2="718.3" y2="377.5" stroke="#000" stroke-width="1"/>
<g transform="translate(718.90,398.30) scale(1.05,1)"><text x="0" y="0" class="tk" text-anchor="middle" >3000</text></g>
<line x1="755.0" y1="371.5" x2="755.0" y2="374.5" stroke="#000" stroke-width="1"/>
<line x1="791.6" y1="371.5" x2="791.6" y2="377.5" stroke="#000" stroke-width="1"/>
<g transform="translate(792.20,398.30) scale(1.05,1)"><text x="0" y="0" class="tk" text-anchor="middle" >3200</text></g>
<line x1="828.2" y1="371.5" x2="828.2" y2="374.5" stroke="#000" stroke-width="1"/>
<line x1="864.9" y1="371.5" x2="864.9" y2="377.5" stroke="#000" stroke-width="1"/>
<g transform="translate(865.50,398.30) scale(1.05,1)"><text x="0" y="0" class="tk" text-anchor="middle" >3400</text></g>
<line x1="901.5" y1="371.5" x2="901.5" y2="374.5" stroke="#000" stroke-width="1"/>
<line x1="938.2" y1="371.5" x2="938.2" y2="377.5" stroke="#000" stroke-width="1"/>
<g transform="translate(938.80,398.30) scale(1.05,1)"><text x="0" y="0" class="tk" text-anchor="middle" >3600</text></g>
<line x1="974.9" y1="371.5" x2="974.9" y2="374.5" stroke="#000" stroke-width="1"/>
<line x1="613.6" y1="24.4" x2="613.6" y2="27.4" stroke="#000" stroke-width="1"/>
<line x1="655.8" y1="24.4" x2="655.8" y2="30.4" stroke="#000" stroke-width="1"/>
<line x1="697.9" y1="24.4" x2="697.9" y2="27.4" stroke="#000" stroke-width="1"/>
<line x1="740.0" y1="24.4" x2="740.0" y2="30.4" stroke="#000" stroke-width="1"/>
<line x1="782.2" y1="24.4" x2="782.2" y2="27.4" stroke="#000" stroke-width="1"/>
<line x1="824.4" y1="24.4" x2="824.4" y2="30.4" stroke="#000" stroke-width="1"/>
<line x1="866.5" y1="24.4" x2="866.5" y2="27.4" stroke="#000" stroke-width="1"/>
<line x1="908.7" y1="24.4" x2="908.7" y2="30.4" stroke="#000" stroke-width="1"/>
<line x1="950.8" y1="24.4" x2="950.8" y2="27.4" stroke="#000" stroke-width="1"/>
<line x1="990.2" y1="59.5" x2="993.2" y2="59.5" stroke="#000" stroke-width="1"/>
<line x1="987.2" y1="94.1" x2="993.2" y2="94.1" stroke="#000" stroke-width="1"/>
<line x1="990.2" y1="128.8" x2="993.2" y2="128.8" stroke="#000" stroke-width="1"/>
<line x1="987.2" y1="163.5" x2="993.2" y2="163.5" stroke="#000" stroke-width="1"/>
<line x1="990.2" y1="198.2" x2="993.2" y2="198.2" stroke="#000" stroke-width="1"/>
<line x1="987.2" y1="232.9" x2="993.2" y2="232.9" stroke="#000" stroke-width="1"/>
<line x1="990.2" y1="267.6" x2="993.2" y2="267.6" stroke="#000" stroke-width="1"/>
<line x1="987.2" y1="302.3" x2="993.2" y2="302.3" stroke="#000" stroke-width="1"/>
<line x1="990.2" y1="337.0" x2="993.2" y2="337.0" stroke="#000" stroke-width="1"/>
<text x="101.30" y="228.60" class="an" textLength="90.8" lengthAdjust="spacingAndGlyphs" >Si-O-Si (rocking)</text>
<text x="104.20" y="243.80" class="an" textLength="51.6" lengthAdjust="spacingAndGlyphs" >445.55545</text>
<g transform="translate(191.00,302.50) scale(1.0,1)"><text x="0" y="0" class="an" text-anchor="start" >CO<tspan dy="2.7">2</tspan><tspan dy="-1.1" dx="0.6" font-size="8.5">*</tspan></text></g>
<text x="191.20" y="321.90" class="an" textLength="51.4" lengthAdjust="spacingAndGlyphs" >667.36877</text>
<text x="237.00" y="292.20" class="an" textLength="89.6" lengthAdjust="spacingAndGlyphs" >Si-O-Si (bending)</text>
<text x="252.60" y="310.90" class="an" textLength="51.8" lengthAdjust="spacingAndGlyphs" >788.88389</text>
<text x="408.60" y="34.80" class="an" textLength="57.2" lengthAdjust="spacingAndGlyphs" >1055.05987</text>
<text transform="translate(461.30,186.00) rotate(-90)" class="an" textLength="156" lengthAdjust="spacingAndGlyphs" >Si-O-Si (Asymmetric streching)</text>
<!-- annotations B -->
<text transform="translate(851.7,157.1) rotate(-90)" class="an2">3385 cm<tspan font-size="13.5" dy="-9.5">-1</tspan></text>
<text transform="translate(876.2,181.0) rotate(-90)" class="an3" textLength="141.5" lengthAdjust="spacingAndGlyphs">H bonded OH Stretching</text>
<text transform="translate(952.2,185.2) rotate(-90)" class="an2">3650 cm<tspan font-size="13.5" dy="-9.5">-1</tspan></text>
<text transform="translate(977.0,184.4) rotate(-90)" class="an3" textLength="108.5" lengthAdjust="spacingAndGlyphs">free OH Stretching</text>
<rect x="103.5" y="30.5" width="233.0" height="154.0" fill="#fff" stroke="#c4c4c4" stroke-width="1.2"/>
<line x1="106.0" y1="42.2" x2="144.2" y2="42.2" stroke="#000000" stroke-width="3" stroke-linecap="round"/>
<g transform="translate(149.50,47.90) scale(1.04,1)"><text x="0" y="0" class="lg" text-anchor="start" >SiO<tspan class="sb" dy="4.5">2</tspan><tspan dy="-4.5"> = 1660 Cycles</tspan></text></g>
<line x1="106.0" y1="67.5" x2="144.2" y2="67.5" stroke="#ff0000" stroke-width="3" stroke-linecap="round"/>
<g transform="translate(149.50,73.20) scale(1.04,1)"><text x="0" y="0" class="lg" text-anchor="start" >HfO<tspan class="sb" dy="4.5">2</tspan><tspan dy="-4.5"> = 1482 Cycles</tspan></text></g>
<line x1="106.0" y1="92.8" x2="144.2" y2="92.8" stroke="#00ff00" stroke-width="3" stroke-linecap="round"/>
<g transform="translate(149.50,98.50) scale(1.04,1)"><text x="0" y="0" class="lg" text-anchor="start" >SiO<tspan class="sb" dy="4.5">2</tspan><tspan dy="-4.5">:HfO</tspan><tspan class="sb" dy="4.5">2</tspan><tspan dy="-4.5"> = [8:8]*145</tspan></text></g>
<line x1="106.0" y1="118.1" x2="144.2" y2="118.1" stroke="#0000ff" stroke-width="3" stroke-linecap="round"/>
<g transform="translate(149.50,123.80) scale(1.04,1)"><text x="0" y="0" class="lg" text-anchor="start" >SiO<tspan class="sb" dy="4.5">2</tspan><tspan dy="-4.5">:HfO</tspan><tspan class="sb" dy="4.5">2</tspan><tspan dy="-4.5"> = [8:16]*76</tspan></text></g>
<line x1="106.0" y1="143.4" x2="144.2" y2="143.4" stroke="#ff00ff" stroke-width="3" stroke-linecap="round"/>
<g transform="translate(149.50,149.10) scale(1.04,1)"><text x="0" y="0" class="lg" text-anchor="start" >SiO<tspan class="sb" dy="4.5">2</tspan><tspan dy="-4.5">:HfO</tspan><tspan class="sb" dy="4.5">2</tspan><tspan dy="-4.5"> = [16:16]*72</tspan></text></g>
<line x1="106.0" y1="168.7" x2="144.2" y2="168.7" stroke="#808000" stroke-width="3" stroke-linecap="round"/>
<g transform="translate(149.50,174.40) scale(1.04,1)"><text x="0" y="0" class="lg" text-anchor="start" >SiO<tspan class="sb" dy="4.5">2</tspan><tspan dy="-4.5">:HfO</tspan><tspan class="sb" dy="4.5">2</tspan><tspan dy="-4.5"> = [64:32]*20</tspan></text></g>
<rect x="584.5" y="33.5" width="234.0" height="154.0" fill="#fff" stroke="#c4c4c4" stroke-width="1.2"/>
<line x1="587.6" y1="45.8" x2="625.4" y2="45.8" stroke="#000000" stroke-width="3" stroke-linecap="round"/>
<g transform="translate(631.60,51.50) scale(1.04,1)"><text x="0" y="0" class="lg" text-anchor="start" >SiO<tspan class="sb" dy="4.5">2</tspan><tspan dy="-4.5"> = 1660 Cycles</tspan></text></g>
<line x1="587.6" y1="71.1" x2="625.4" y2="71.1" stroke="#ff0000" stroke-width="3" stroke-linecap="round"/>
<g transform="translate(631.60,76.80) scale(1.04,1)"><text x="0" y="0" class="lg" text-anchor="start" >HfO<tspan class="sb" dy="4.5">2</tspan><tspan dy="-4.5"> = 1482 Cycles</tspan></text></g>
<line x1="587.6" y1="96.4" x2="625.4" y2="96.4" stroke="#00ff00" stroke-width="3" stroke-linecap="round"/>
<g transform="translate(631.60,102.10) scale(1.04,1)"><text x="0" y="0" class="lg" text-anchor="start" >SiO<tspan class="sb" dy="4.5">2</tspan><tspan dy="-4.5">:HfO</tspan><tspan class="sb" dy="4.5">2</tspan><tspan dy="-4.5"> = [8:8]*145</tspan></text></g>
<line x1="587.6" y1="121.7" x2="625.4" y2="121.7" stroke="#0000ff" stroke-width="3" stroke-linecap="round"/>
<g transform="translate(631.60,127.40) scale(1.04,1)"><text x="0" y="0" class="lg" text-anchor="start" >SiO<tspan class="sb" dy="4.5">2</tspan><tspan dy="-4.5">:HfO</tspan><tspan class="sb" dy="4.5">2</tspan><tspan dy="-4.5"> = [8:16]*76</tspan></text></g>
<line x1="587.6" y1="147.0" x2="625.4" y2="147.0" stroke="#ff00ff" stroke-width="3" stroke-linecap="round"/>
<g transform="translate(631.60,152.70) scale(1.04,1)"><text x="0" y="0" class="lg" text-anchor="start" >SiO<tspan class="sb" dy="4.5">2</tspan><tspan dy="-4.5">:HfO</tspan><tspan class="sb" dy="4.5">2</tspan><tspan dy="-4.5"> = [16:16]*72</tspan></text></g>
<line x1="587.6" y1="172.3" x2="625.4" y2="172.3" stroke="#808000" stroke-width="3" stroke-linecap="round"/>
<g transform="translate(631.60,178.00) scale(1.04,1)"><text x="0" y="0" class="lg" text-anchor="start" >SiO<tspan class="sb" dy="4.5">2</tspan><tspan dy="-4.5">:HfO</tspan><tspan class="sb" dy="4.5">2</tspan><tspan dy="-4.5"> = [64:32]*20</tspan></text></g>
<!-- titles -->
<g transform="translate(6.00,22.00) scale(1.12,1)"><text x="0" y="0" class="pl" text-anchor="start" style="font-weight:normal;stroke:#000;stroke-width:0.3px">(a)</text></g>
<g transform="translate(489.80,22.00) scale(1.12,1)"><text x="0" y="0" class="pl" text-anchor="start" style="font-weight:normal;stroke:#000;stroke-width:0.6px">(b)</text></g>
<g transform="translate(180.80,426.60) scale(1.08,1)"><text x="0" y="0" class="ti" text-anchor="start" >Wavenumber [cm<tspan font-size="13.5" dy="-7.5">-1</tspan><tspan dy="7.5">]</tspan></text></g>
<g transform="translate(680.30,426.60) scale(1.08,1)"><text x="0" y="0" class="ti" text-anchor="start" >Wavenumber [cm<tspan font-size="13.5" dy="-7.5">-1</tspan><tspan dy="7.5">]</tspan></text></g>
<text transform="translate(25.30,328.90) rotate(-90)" class="ti" textLength="269.5" lengthAdjust="spacingAndGlyphs" >Normalized absorbance [a.u]</text>
<text transform="translate(509.10,333.30) rotate(-90)" class="ti" textLength="269.5" lengthAdjust="spacingAndGlyphs" >Normalized absorbance [a.u]</text>
</svg>
</body></html>
